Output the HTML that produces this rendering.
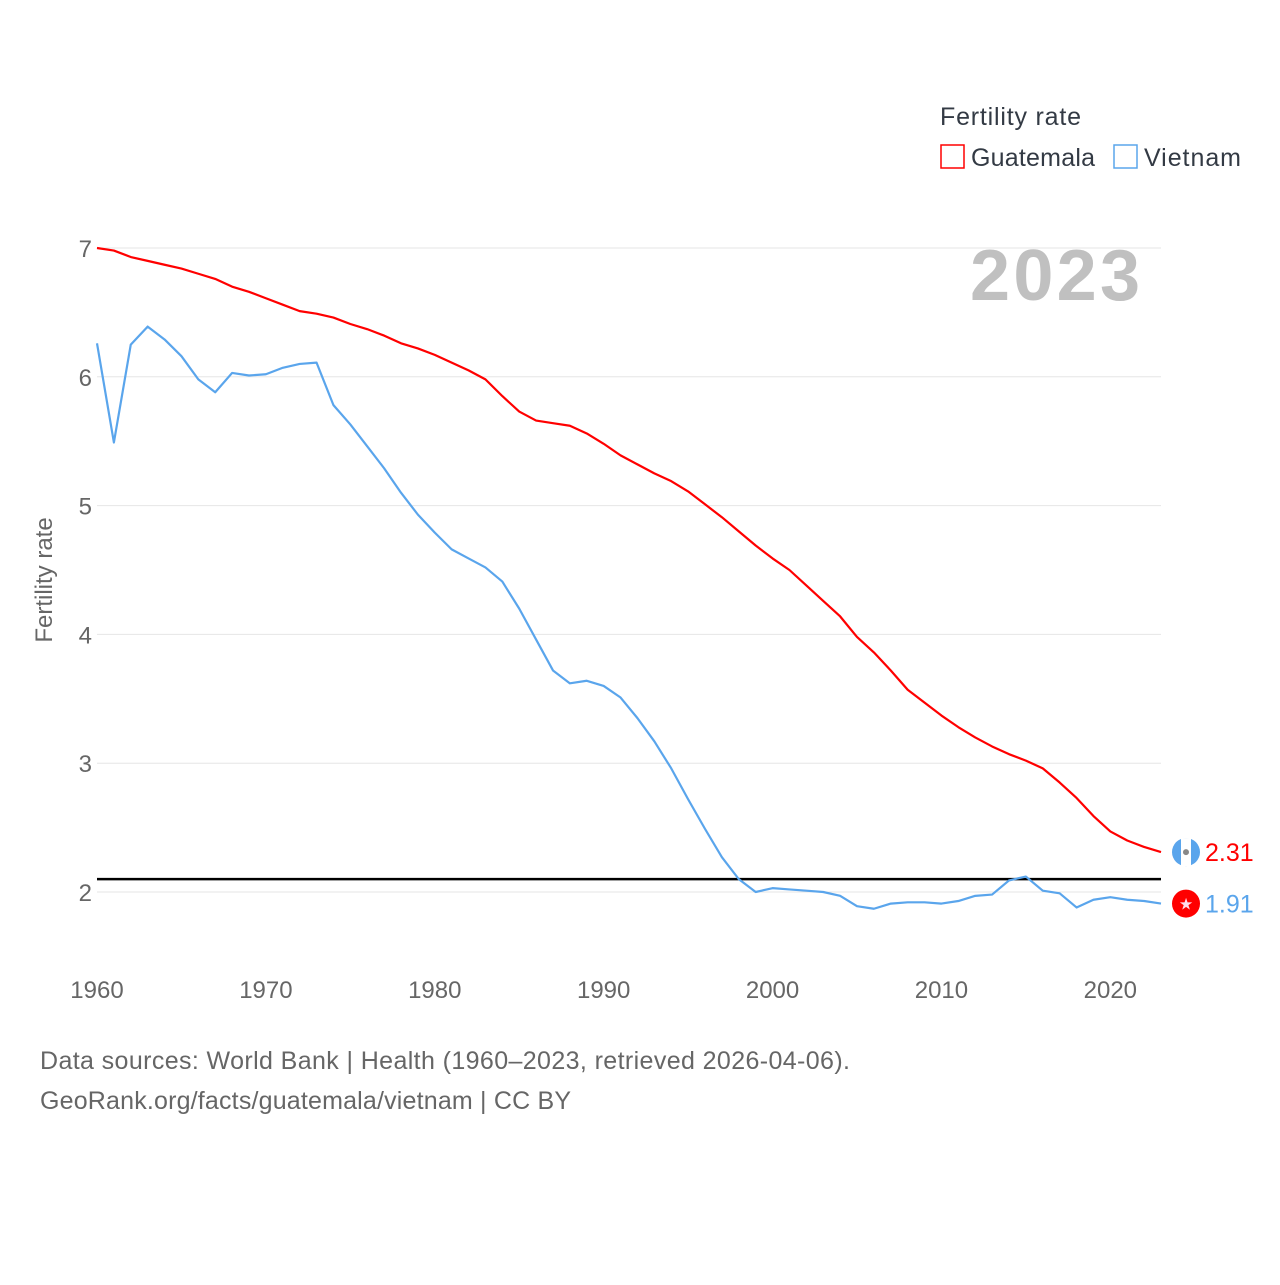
<!DOCTYPE html>
<html><head><meta charset="utf-8"><style>
body{margin:0;background:#fff;font-family:"Liberation Sans",sans-serif}
svg text{font-family:"Liberation Sans",sans-serif}
</style></head><body>
<svg id="c" width="1280" height="1280" viewBox="0 0 1280 1280">
<rect width="1280" height="1280" fill="#fff"/>
<text x="940" y="125" font-size="25" fill="#333a44" textLength="141">Fertility rate</text>
<g><rect x="941" y="145" width="23" height="23" fill="none" stroke="#f00" stroke-width="1.5"/><text x="971" y="166" font-size="25" fill="#333a44" textLength="124">Guatemala</text></g>
<g><rect x="1114" y="145" width="23" height="23" fill="none" stroke="#5aa5ec" stroke-width="1.5"/><text x="1144" y="166" font-size="25" fill="#333a44" textLength="97">Vietnam</text></g>
<text x="970" y="300" font-size="72" font-weight="bold" fill="#c0c0c0" textLength="170">2023</text>
<g id="grid"></g><g id="series"></g>
<text transform="translate(52,580) rotate(-90)" font-size="24" fill="#666" text-anchor="middle">Fertility rate</text>
<text x="40" y="1069" font-size="25" fill="#666" textLength="810">Data sources: World Bank | Health (1960–2023, retrieved 2026-04-06).</text>
<text x="40" y="1109" font-size="25" fill="#666" textLength="531">GeoRank.org/facts/guatemala/vietnam | CC BY</text>
</svg>
<script>
const years=[];for(let y=1960;y<=2023;y++)years.push(y);
const yTicks=[2,3,4,5,6,7];
const xTicks=[1960,1970,1980,1990,2000,2010,2020];
const guatemala=[7.0,6.98,6.93,6.90,6.87,6.84,6.80,6.76,6.70,6.66,6.61,6.56,6.51,6.49,6.46,6.41,6.37,6.32,6.26,6.22,6.17,6.11,6.05,5.98,5.85,5.73,5.66,5.64,5.62,5.56,5.48,5.39,5.32,5.25,5.19,5.11,5.01,4.91,4.80,4.69,4.59,4.50,4.38,4.26,4.14,3.98,3.86,3.72,3.57,3.47,3.37,3.28,3.20,3.13,3.07,3.02,2.96,2.85,2.73,2.59,2.47,2.40,2.35,2.31];
const vietnam=[6.26,5.49,6.25,6.39,6.29,6.16,5.98,5.88,6.03,6.01,6.02,6.07,6.10,6.11,5.78,5.63,5.46,5.29,5.10,4.93,4.79,4.66,4.59,4.52,4.41,4.20,3.96,3.72,3.62,3.64,3.60,3.51,3.35,3.17,2.96,2.72,2.49,2.27,2.10,2.00,2.03,2.02,2.01,2.00,1.97,1.89,1.87,1.91,1.92,1.92,1.91,1.93,1.97,1.98,2.09,2.12,2.01,1.99,1.88,1.94,1.96,1.94,1.93,1.91];
const replacement=2.1;
const NS="http://www.w3.org/2000/svg";
const X=y=>97+(y-1960)*(1161-97)/63;
const Y=v=>892-(v-2)*128.8;
function mk(t,a,p){const e=document.createElementNS(NS,t);for(const k in a)e.setAttribute(k,a[k]);p.appendChild(e);return e;}
const g=document.getElementById('grid'),s=document.getElementById('series');
yTicks.forEach(v=>{
 const l=mk('line',{x1:97,x2:1161,y1:Y(v),y2:Y(v),stroke:'#e6e6e6','stroke-width':1},g);
 
 
 const t=mk('text',{x:92,y:Y(v)+9,'font-size':24,fill:'#666','text-anchor':'end'},g);t.textContent=v;
 
 
});
xTicks.forEach(v=>{
 const t=mk('text',{x:X(v),y:998,'font-size':24,fill:'#666','text-anchor':'middle'},g);t.textContent=v;
 
 
});
const rl=mk('line',{x1:97,x2:1161,y1:Y(replacement),y2:Y(replacement),stroke:'#000','stroke-width':2.5},s);


function line(d,c,n){
 const p=mk('polyline',{points:d.map((v,i)=>X(years[i])+','+Y(v)).join(' '),fill:'none',stroke:c,'stroke-width':2.2,'stroke-linejoin':'round'},s);
 
 
 const last=d[d.length-1],cx=X(2023)+25,cy=Y(last);
 const f=mk('circle',{cx:cx,cy:cy,r:14,fill:n=='guatemala'?'#5aa5ec':'#f00'},s);
 
 
 if(n=='guatemala'){mk('rect',{x:cx-5,y:cy-14,width:10,height:28,fill:'#fff'},s);mk('circle',{cx:cx,cy:cy,r:3,fill:'#888'},s);}
 else{const st=mk('text',{x:cx,y:cy+6,'font-size':16,fill:'#fde','text-anchor':'middle'},s);st.textContent='★';}
 const t=mk('text',{x:cx+19,y:cy+9,'font-size':25,fill:c},s);t.textContent=last.toFixed(2);
 
 
}
line(guatemala,'#f00','guatemala');
line(vietnam,'#5aa5ec','vietnam');
</script>
</body></html>
